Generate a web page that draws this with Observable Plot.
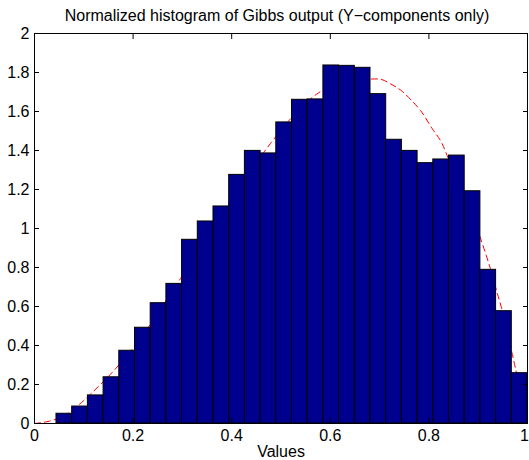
<!DOCTYPE html>
<html><head><meta charset="utf-8">
<script src="https://cdn.jsdelivr.net/npm/d3@7"></script>
<script src="https://cdn.jsdelivr.net/npm/@observablehq/plot@0.6"></script>
<style>body{margin:0;background:#fff} #chart{width:529px;height:460px}</style>
</head><body><div id="chart"></div>
<script>
// Histogram: 30 equal bins from the sample min to max
const binStart = 0.0446;
const binEnd = 1.0;
const binHeights = [0.050,0.087,0.144,0.237,0.373,0.491,0.617,0.716,0.942,1.036,
  1.113,1.275,1.398,1.385,1.544,1.660,1.662,1.836,1.834,1.824,
  1.689,1.455,1.398,1.335,1.354,1.374,1.191,0.788,0.576,0.258];
// Red dashed reference density
const curveX = [0.0,0.03,0.06,0.10,0.12,0.158,0.196,0.298,0.391,0.465,0.479,0.573,0.64,0.698,0.722,0.746,0.765,0.783,0.807,0.827,0.837,0.908,0.924,0.939,0.947,0.972,0.998];
const curveY = [0.0,0.012,0.04,0.118,0.166,0.263,0.374,0.75,1.113,1.39,1.437,1.69,1.76,1.767,1.742,1.703,1.656,1.605,1.511,1.434,1.374,0.925,0.80,0.665,0.596,0.323,0.02];
const xTicks = [0,0.2,0.4,0.6,0.8,1];
const xTickLabels = ["0","0.2","0.4","0.6","0.8","1"];
const yTicks = [0,0.2,0.4,0.6,0.8,1,1.2,1.4,1.6,1.8,2];
const yTickLabels = ["0","0.2","0.4","0.6","0.8","1","1.2","1.4","1.6","1.8","2"];
const titleText = "Normalized histogram of Gibbs output (Y\u2212components only)";
const xLabel = "Values";

const n = binHeights.length;
const w = (binEnd - binStart) / n;
const bars = binHeights.map((h, i) => ({x1: binStart + i * w, x2: binStart + (i + 1) * w, y: h}));
const curve = curveX.map((x, i) => ({x, y: curveY[i]}));
const lastTick = xTicks.slice(-1);
const innerTicks = xTicks.slice(0, -1);
const fmtX = d => xTickLabels[xTicks.indexOf(d)];

const chart = Plot.plot({
  width: 529, height: 460,
  marginLeft: 34, marginRight: 2, marginTop: 33, marginBottom: 37,
  style: {fontFamily: "'Liberation Sans', Arial, Helvetica, sans-serif", fontSize: "16px", background: "white", color: "black", overflow: "visible"},
  x: {domain: [0, 1], label: null},
  y: {domain: [0, 2], label: null},
  marks: [
    Plot.line(curve, {x: "x", y: "y", stroke: "#ff0000", strokeWidth: 1, strokeDasharray: "6,4", curve: "monotone-x"}),
    Plot.rectY(bars, {x1: "x1", x2: "x2", y: "y", fill: "#00008F", stroke: "black", strokeWidth: 1}),
    Plot.frame({stroke: "black", strokeWidth: 1}),
    Plot.axisX(xTicks, {anchor: "bottom", tickSize: -5, text: null, label: null}),
    Plot.axisX(xTicks, {anchor: "top", tickSize: -5, text: null, label: null}),
    Plot.axisY(yTicks, {anchor: "left", tickSize: -5, text: null, label: null}),
    Plot.axisY(yTicks, {anchor: "right", tickSize: -5, text: null, label: null}),
    Plot.axisX(innerTicks, {anchor: "bottom", tickSize: 0, tickPadding: 6, label: null, fontSize: 16, tickFormat: fmtX}),
    Plot.axisX(lastTick, {anchor: "bottom", tickSize: 0, tickPadding: 6, label: null, fontSize: 16, dx: -3, tickFormat: fmtX}),
    Plot.axisY(yTicks, {anchor: "left", tickSize: 0, tickPadding: 5, label: null, fontSize: 16,
      tickFormat: d => yTickLabels[yTicks.indexOf(d)]}),
    Plot.text([titleText], {frameAnchor: "top", lineAnchor: "top", dy: -24, dx: -4, fontSize: 16, fill: "black"}),
    Plot.text([xLabel], {frameAnchor: "bottom", lineAnchor: "top", dy: 22, fontSize: 16, fill: "black"})
  ]
});
document.getElementById("chart").appendChild(chart);
</script>
</body></html>
